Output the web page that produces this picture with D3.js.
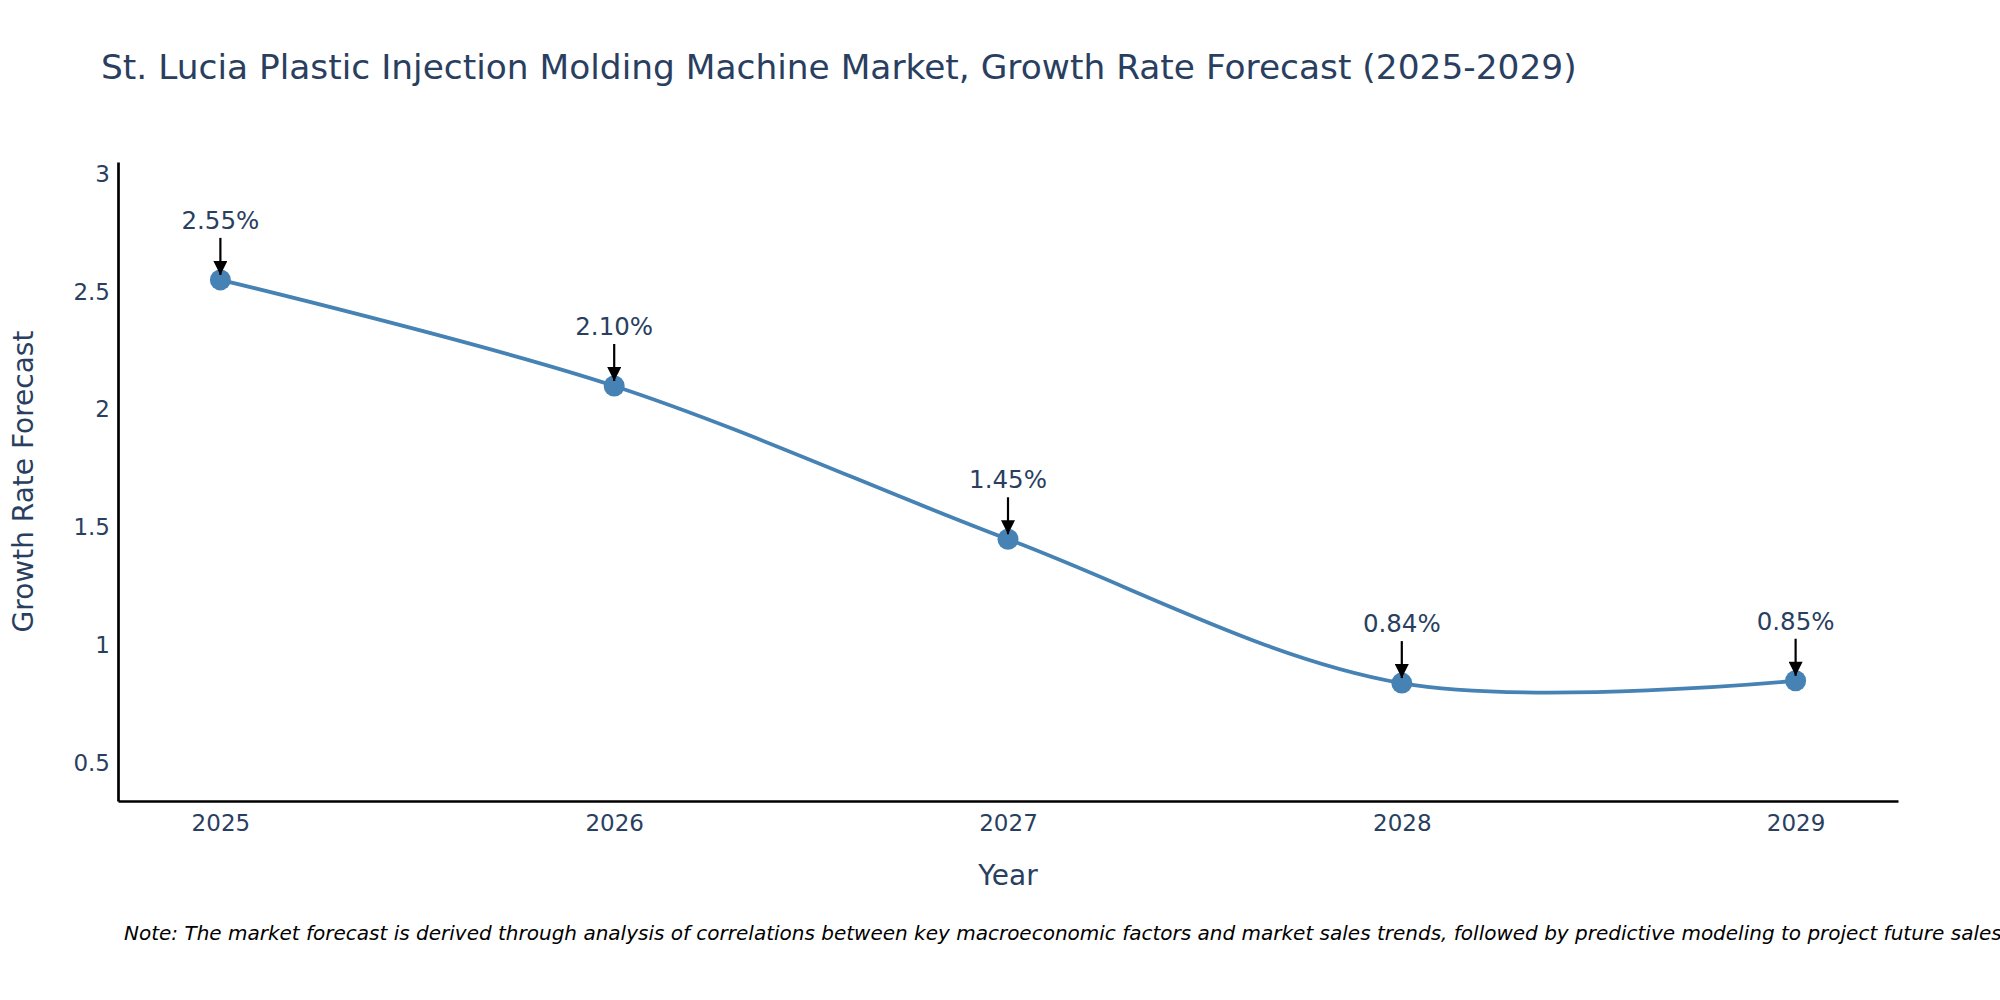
<!DOCTYPE html>
<html>
<head>
<meta charset="utf-8">
<script src="https://cdn.jsdelivr.net/npm/d3@7"></script>
<style>
  body { margin: 0; background: #fff; }
  text { font-family: "DejaVu Sans", Verdana, sans-serif; }
</style>
</head>
<body>
<script>
const years = [2025, 2026, 2027, 2028, 2029];
const growth = [2.55, 2.10, 1.45, 0.84, 0.85];
const yTicks = [0.5, 1, 1.5, 2, 2.5, 3];

const titleText = "St. Lucia Plastic Injection Molding Machine Market, Growth Rate Forecast (2025-2029)";
const noteText = "Note: The market forecast is derived through analysis of correlations between key macroeconomic factors and market sales trends, followed by predictive modeling to project future sales";

const W = 2000, H = 1000;
const margin = { top: 162, bottom: 199, left: 118, right: 102 };
const width = W - margin.left - margin.right;
const height = H - margin.top - margin.bottom;
const textColor = "#2a3f5f";
const lineColor = "#4682b4";

const svg = d3.select("body")
    .append("svg")
    .attr("width", W)
    .attr("height", H);

svg.append("defs").append("marker")
    .attr("id", "arrow")
    .attr("viewBox", "0 0 10 10")
    .attr("refX", 10)
    .attr("refY", 5)
    .attr("markerWidth", 15)
    .attr("markerHeight", 14)
    .attr("markerUnits", "userSpaceOnUse")
    .attr("orient", "auto")
    .append("path")
    .attr("d", "M0,0 L10,5 L0,10 Z")
    .attr("fill", "#000");

const g = svg.append("g")
    .attr("transform", `translate(${margin.left},${margin.top})`);

const xscale = d3.scaleLinear().domain([2024.74, 2029.26]).range([0, width]);
const yscale = d3.scaleLinear().domain([0.34, 3.05]).range([height, 0]);

// axes
const xaxis = d3.axisBottom(xscale).tickValues(years).tickFormat(d3.format("d")).tickSize(0).tickPadding(14);
const g_xaxis = g.append("g").attr("class", "x axis")
    .attr("transform", `translate(0,${height})`)
    .call(xaxis);

const yaxis = d3.axisLeft(yscale).tickValues(yTicks).tickFormat(d => d).tickSize(0).tickPadding(8);
const g_yaxis = g.append("g").attr("class", "y axis").call(yaxis);

[g_xaxis, g_yaxis].forEach(a => {
    a.select(".domain").attr("stroke", "#000").attr("stroke-width", 2.7);
    a.selectAll("text").attr("fill", textColor).style("font-size", "23px");
});

// line
const line = d3.line()
    .x((d, i) => xscale(years[i]))
    .y(d => yscale(d))
    .curve(d3.curveCatmullRom.alpha(0.5));

g.append("path")
    .datum(growth)
    .attr("fill", "none")
    .attr("stroke", lineColor)
    .attr("stroke-width", 3.8)
    .attr("d", line);

g.selectAll("circle")
    .data(growth)
    .join("circle")
    .attr("cx", (d, i) => xscale(years[i]))
    .attr("cy", d => yscale(d))
    .attr("r", 10.5)
    .attr("fill", lineColor);

// annotations
const ann = g.selectAll(".ann")
    .data(growth)
    .join("g")
    .attr("class", "ann")
    .attr("transform", (d, i) => `translate(${xscale(years[i])},${yscale(d)})`);

ann.append("line")
    .attr("x1", 0).attr("x2", 0)
    .attr("y1", -42).attr("y2", -5)
    .attr("stroke", "#000")
    .attr("stroke-width", 2.2)
    .attr("marker-end", "url(#arrow)");

ann.append("text")
    .attr("y", -51)
    .attr("text-anchor", "middle")
    .attr("fill", textColor)
    .style("font-size", "24.5px")
    .text(d => d.toFixed(2) + "%");

// titles
svg.append("text")
    .attr("x", 101)
    .attr("y", 79)
    .attr("fill", textColor)
    .style("font-size", "34.4px")
    .text(titleText);

svg.append("text")
    .attr("x", margin.left + width / 2)
    .attr("y", 885)
    .attr("text-anchor", "middle")
    .attr("fill", textColor)
    .style("font-size", "28px")
    .text("Year");

svg.append("text")
    .attr("transform", `translate(33,${margin.top + height / 2}) rotate(-90)`)
    .attr("text-anchor", "middle")
    .attr("fill", textColor)
    .style("font-size", "28px")
    .text("Growth Rate Forecast");

svg.append("text")
    .attr("x", 124)
    .attr("y", 940)
    .attr("fill", "#000")
    .style("font-size", "20px")
    .style("font-style", "italic")
    .text(noteText);
</script>
</body>
</html>
